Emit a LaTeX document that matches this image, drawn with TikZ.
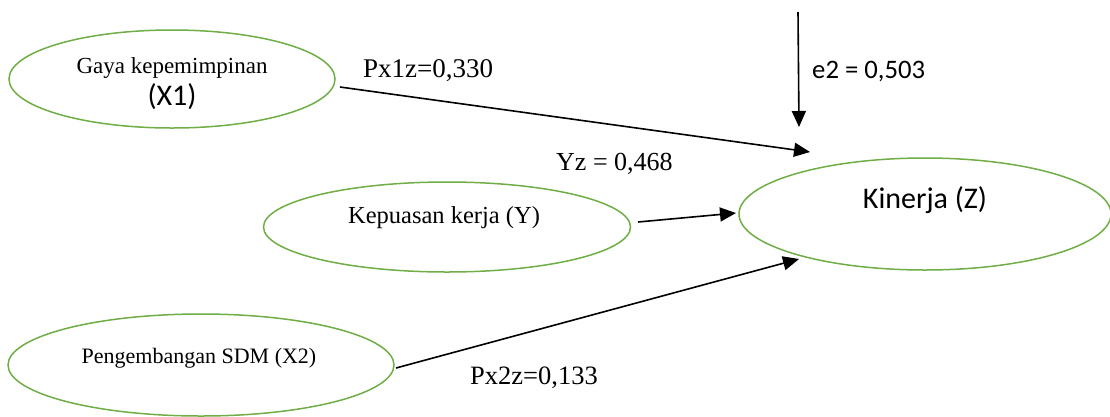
\documentclass[tikz,border=0pt]{standalone}
\usepackage{fontspec}
\setmainfont{Liberation Serif}
\newfontfamily\calib{Carlito}
\usetikzlibrary{shapes.geometric,arrows.meta}
\definecolor{ogreen}{RGB}{112,173,71}
\tikzset{
  oval/.style={draw=ogreen,line width=1.5pt,ellipse,inner sep=0pt},
  link/.style={draw=black,line width=1.6pt,-{Triangle[length=16pt,width=14pt]}},
  txt/.style={anchor=base,inner sep=0pt,text=black},
}
\begin{document}
\begin{tikzpicture}[x=1pt,y=-1pt]
\useasboundingbox (0,0) rectangle (1110,416);
% ellipses
\node[oval,minimum width=326pt,minimum height=98pt] (x1) at (172,79) {};
\node[oval,minimum width=367pt,minimum height=90pt] (y) at (447,227) {};
\node[oval,minimum width=386pt,minimum height=102pt] (x2) at (201,365) {};
\node[oval,minimum width=372pt,minimum height=112pt] (z) at (925,214) {};
% texts in ellipses
\node[txt,font=\fontsize{23}{26}\selectfont] (t1) at (172,73) {Gaya kepemimpinan};
\node[txt,font=\calib\fontsize{30}{34}\selectfont] (t1b) at (172,105) {(X1)};
\node[txt,font=\fontsize{24.5}{28}\selectfont] (ty) at (444,223) {Kepuasan kerja (Y)};
\node[txt,font=\fontsize{22}{26}\selectfont] (tx2) at (199,363) {Pengembangan SDM (X2)};
\node[txt,font=\calib\fontsize{30}{34}\selectfont] (tz) at (925,208) {Kinerja (Z)};
% coordinates
\coordinate (e2top) at (798,12);
\coordinate (e2end) at (799,127);
\coordinate (a1s) at (340,87);
\coordinate (a1e) at (810,152);
\coordinate (a2s) at (638,222);
\coordinate (a2e) at (736,213);
\coordinate (a3s) at (396,368);
\coordinate (a3e) at (799,259);
% arrows
\draw[link] (e2top) -- (e2end);
\draw[link] (a1s) -- (a1e);
\draw[link] (a2s) -- (a2e);
\draw[link] (a3s) -- (a3e);
% labels
\node[txt,anchor=base west,font=\fontsize{27}{30}\selectfont] (l1) at (363,77) {Px1z=0,330};
\node[txt,anchor=base west,font=\fontsize{26}{30}\selectfont] (l2) at (556,170) {Yz = 0,468};
\node[txt,anchor=base west,font=\calib\fontsize{26.7}{30}\selectfont] (l3) at (812,78) {e2 = 0,503};
\node[txt,anchor=base west,font=\fontsize{26.5}{30}\selectfont] (l4) at (470,384) {Px2z=0,133};
\end{tikzpicture}
\end{document}
